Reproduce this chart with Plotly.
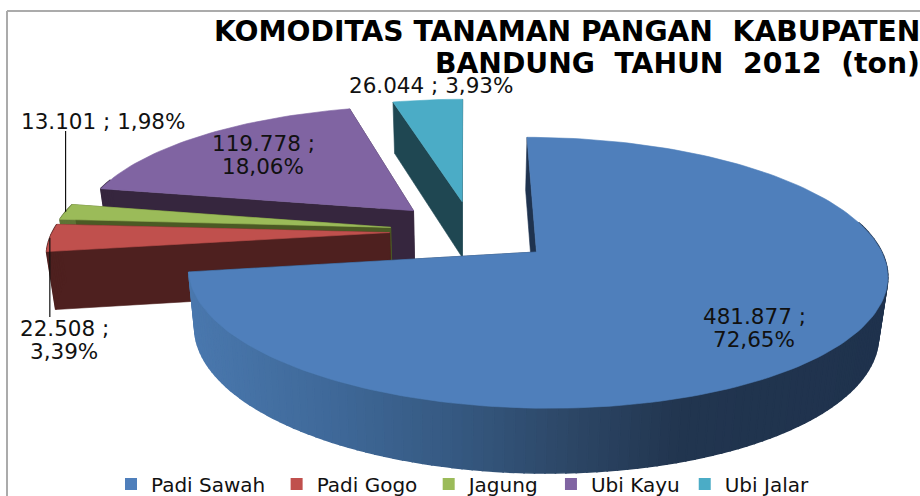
import math
import plotly.graph_objects as go

categories = ["Padi Sawah", "Padi Gogo", "Jagung", "Ubi Kayu", "Ubi Jalar"]
values = [481877, 22508, 13101, 119778, 26044]
top_colors = ["#4f7fbb", "#c0504d", "#9bbb59", "#8064a2", "#4bacc6"]
edge_colors = ["#1f334f", "#4e201f", "#4b5a24", "#36263e", "#1f4752"]
outer_colors = [None, "#4e201f", "#5f7335", "#36263e", "#2c6677"]
title_lines = ["KOMODITAS TANAMAN PANGAN\u00a0 KABUPATEN", "BANDUNG\u00a0 TAHUN\u00a0 2012\u00a0 (ton)"]
legend_pad = ["\u00a0", "\u00a0", "\u00a0", "", ""]
FONT = "DejaVu Sans"
PAGE_W, PAGE_H = 940, 520

# view of the tilted pie
EXPLODE, OFF_X, K = 0.245, 0.02, 0.15
VX, VY, SX, SY = 465.5, 231.3, 337.0, 126.0


def top(X, Y):
    w = 1 + K * Y
    return VX + SX * X / w, VY - SY * Y / w


def base(X, Y):
    w = 1 + K * Y
    return VX + 0.978 * SX * X / w, VY - SY * Y / w + 20 + 37 / w


def hexmix(stops, x):
    for (x0, c0), (x1, c1) in zip(stops, stops[1:]):
        if x <= x1:
            t = max(0.0, (x - x0) / (x1 - x0))
            rgb = [round(int(c0[i:i+2], 16) * (1 - t) + int(c1[i:i+2], 16) * t) for i in (1, 3, 5)]
            return "rgb(%d,%d,%d)" % tuple(rgb)
    return stops[-1][1]


blue_wall = [(190, "#4a78ae"), (330, "#3f6999"), (460, "#355880"), (560, "#2d4868"), (680, "#21354f"), (890, "#1f324d")]

fig = go.Figure()


def poly(pts, color, lw=0.6):
    fig.add_trace(go.Scatter(
        x=[p[0] for p in pts] + [pts[0][0]], y=[p[1] for p in pts] + [pts[0][1]],
        mode="lines", fill="toself", fillcolor=color,
        line=dict(color=color, width=lw), hoverinfo="skip", showlegend=False))


total = sum(values)
angles, a = [], 0.0
for v in values:
    angles.append((a, a + 360 * v / total))
    a += 360 * v / total


def apex(i):
    m = math.radians(sum(angles[i]) / 2)
    return OFF_X + EXPLODE * math.sin(m), EXPLODE * math.cos(m)


def rim(i, deg):
    ax, ay = apex(i)
    r = math.radians(deg)
    return ax + math.sin(r), ay + math.cos(r)


for i in reversed(range(len(values))):
    a0, a1 = angles[i]
    ax, ay = apex(i)
    n = max(3, int((a1 - a0) / 1.5))
    degs = [a0 + (a1 - a0) * j / n for j in range(n + 1)]
    arc = [rim(i, d) for d in degs]
    # flat faces along the two cuts
    poly([top(*arc[-1]), top(ax, ay), base(ax, ay), base(*arc[-1])], edge_colors[i])
    poly([top(*arc[0]), top(ax, ay), base(ax, ay), base(*arc[0])], edge_colors[i])
    # outer rim
    for j in range(n):
        if math.cos(math.radians(degs[j])) > 0.25:
            continue
        q = [top(*arc[j]), top(*arc[j + 1]), base(*arc[j + 1]), base(*arc[j])]
        xm = sum(p[0] for p in q) / 4
        poly(q, hexmix(blue_wall, xm) if i == 0 else outer_colors[i], lw=1.6)
    # upper face
    poly([top(ax, ay)] + [top(*p) for p in arc], top_colors[i])

# legend entries
for name, pad, col in zip(categories, legend_pad, top_colors):
    fig.add_trace(go.Scatter(x=[None], y=[None], name=name + pad, mode="markers",
                             marker=dict(symbol="square", size=12, color=col)))


def label(i):
    num = f"{values[i]:,}".replace(",", ".")
    pct = f"{100 * values[i] / total:.2f}".replace(".", ",")
    return f"{num} ;", f"{pct}%"


# one entry per drawn line of text: slice index, x, y of each line
label_pos = [(0, 754, 316, 339), (1, 64, 328, 351), (2, 103, 121, None), (3, 263, 143, 166), (4, 431, 85, None)]
anns = []
label_font = dict(family=FONT, size=21.5, color="#111111")
for i, lx, y1, y2 in label_pos:
    first, second = label(i)
    if y2 is None:
        anns.append(dict(x=lx, y=y1, xref="x", yref="y", text=f"{first} {second}", showarrow=False, font=label_font))
    else:
        anns.append(dict(x=lx, y=y1, xref="x", yref="y", text=first, showarrow=False, font=label_font))
        anns.append(dict(x=lx, y=y2, xref="x", yref="y", text=second, showarrow=False, font=label_font))
title_font = dict(family=FONT, size=28.2, color="#000000", weight="bold")
anns.append(dict(x=922, y=31, xref="x", yref="y", xanchor="right", text=title_lines[0], showarrow=False, font=title_font))
anns.append(dict(x=921.5, y=63, xref="x", yref="y", xanchor="right", text=title_lines[1], showarrow=False, font=title_font))

shapes = [
    dict(type="line", xref="x", yref="y", x0=7, y0=11, x1=PAGE_W, y1=11, line=dict(color="#ababab", width=2)),
    dict(type="line", xref="x", yref="y", x0=7, y0=11, x1=7, y1=PAGE_H, line=dict(color="#ababab", width=2)),
]
# leader lines from the thin slices to their labels
for i, end in ((1, 317), (2, 131)):
    px, py = top(*rim(i, sum(angles[i]) / 2))
    shapes.append(dict(type="line", xref="x", yref="y", x0=px, y0=py, x1=px, y1=end, line=dict(color="#111111", width=1.2)))

fig.update_layout(
    width=PAGE_W, height=PAGE_H, margin=dict(l=0, r=0, t=0, b=0),
    paper_bgcolor="white", plot_bgcolor="white",
    xaxis=dict(range=[0, PAGE_W], visible=False, fixedrange=True),
    yaxis=dict(range=[PAGE_H, 0], visible=False, fixedrange=True),
    annotations=anns, shapes=shapes, hovermode=False,
    legend=dict(orientation="h", x=111 / PAGE_W, xanchor="left",
                y=(PAGE_H - 484) / PAGE_H, yanchor="middle",
                bgcolor="rgba(0,0,0,0)", font=dict(family=FONT, size=20, color="#111111")),
)
fig.write_html("out.html", config={"displayModeBar": False},
               post_script="document.body.style.margin='0';document.body.style.overflow='hidden';document.documentElement.style.overflow='hidden';")
